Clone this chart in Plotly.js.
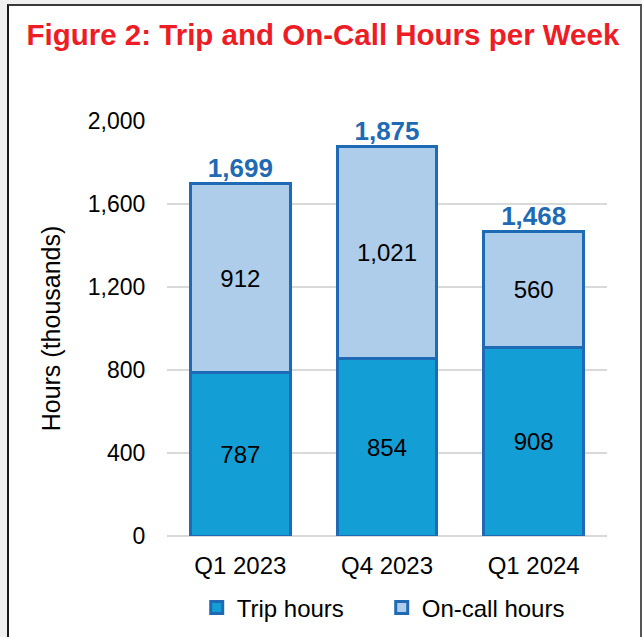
<!DOCTYPE html>
<html>
<head>
<meta charset="utf-8">
<script src="https://cdn.plot.ly/plotly-3.0.1.min.js"></script>
<style>
  html, body { margin: 0; padding: 0; background: #f0f0f0; }
  #frame { position: absolute; left: 7px; top: 4px; width: 631px; height: 640px;
           border-left: 2px solid #1a1a1a; border-top: 2px solid #3a3a3a; border-right: 2px solid #555;
           background: #ffffff; }
  #chart { position: absolute; left: 0; top: 0; width: 642px; height: 637px; }
</style>
</head>
<body>
<div id="frame"></div>
<div id="chart"></div>
<script>
const categories = ["Q1 2023", "Q4 2023", "Q1 2024"];
const tripHours = [787, 854, 908];
const onCallHours = [912, 1021, 560];
const totalHours = [1699, 1875, 1468];
const yTicks = [0, 400, 800, 1200, 1600, 2000];

const outline = "#1F6AB4";
const font = "Liberation Sans, Arial, sans-serif";

const traces = [
  {
    type: "bar", name: "Trip hours", x: categories, y: tripHours,
    marker: { color: "#139FD6", line: { color: outline, width: 3 } },
    texttemplate: "%{y:,}", textposition: "inside", insidetextanchor: "middle",
    textfont: { color: "#000000", size: 24, family: font }, constraintext: "none",
    hoverinfo: "skip"
  },
  {
    type: "bar", name: "On-call hours", x: categories, y: onCallHours,
    marker: { color: "#AECDEB", line: { color: outline, width: 3 } },
    texttemplate: "%{y:,}", textposition: "inside", insidetextanchor: "middle",
    textfont: { color: "#000000", size: 24, family: font }, constraintext: "none",
    hoverinfo: "skip"
  },
  {
    type: "scatter", mode: "text", x: categories, y: totalHours,
    text: totalHours.map(v => v.toLocaleString("en-US")),
    textposition: "top center", showlegend: false, cliponaxis: false,
    textfont: { color: "#1F6AB4", size: 26, family: font, weight: "bold" },
    hoverinfo: "skip"
  }
];

const layout = {
  width: 642, height: 637,
  paper_bgcolor: "rgba(0,0,0,0)", plot_bgcolor: "rgba(0,0,0,0)",
  margin: { l: 167, r: 35, t: 121, b: 101, autoexpand: false },
  barmode: "stack", bargap: 0.32,
  title: {
    text: "<b>Figure 2: Trip and On-Call Hours per Week</b>",
    font: { family: "Liberation Sans, Arial, sans-serif", size: 29.5, color: "#EE1C25" },
    x: 0.503, xref: "container", xanchor: "center", y: 0.945, yref: "container", yanchor: "middle"
  },
  xaxis: {
    type: "category", showgrid: false, showline: false, zeroline: false, automargin: false,
    ticks: "outside", ticklen: 8, tickcolor: "rgba(0,0,0,0)",
    tickfont: { family: font, size: 24, color: "#000000" }
  },
  yaxis: {
    range: [0, 2000], tickvals: yTicks, tickformat: ",", automargin: false,
    showgrid: true, gridcolor: "#d9d9d9", gridwidth: 1.5,
    zeroline: true, zerolinecolor: "#d9d9d9", zerolinewidth: 2, showline: false,
    ticks: "outside", ticklen: 16, tickcolor: "rgba(0,0,0,0)",
    tickfont: { family: font, size: 23, color: "#000000" },
    title: { text: "Hours (thousands)", font: { family: font, size: 25, color: "#000000" }, standoff: 20 }
  },
  legend: {
    orientation: "h", x: 0.488, xanchor: "center", y: -0.173, yanchor: "middle",
    entrywidth: 140, entrywidthmode: "pixels",
    font: { family: font, size: 24, color: "#000000" }, traceorder: "normal",
    bgcolor: "rgba(0,0,0,0)"
  },
  showlegend: true
};

Plotly.newPlot("chart", traces, layout, { displayModeBar: false, staticPlot: true });
</script>
</body>
</html>
